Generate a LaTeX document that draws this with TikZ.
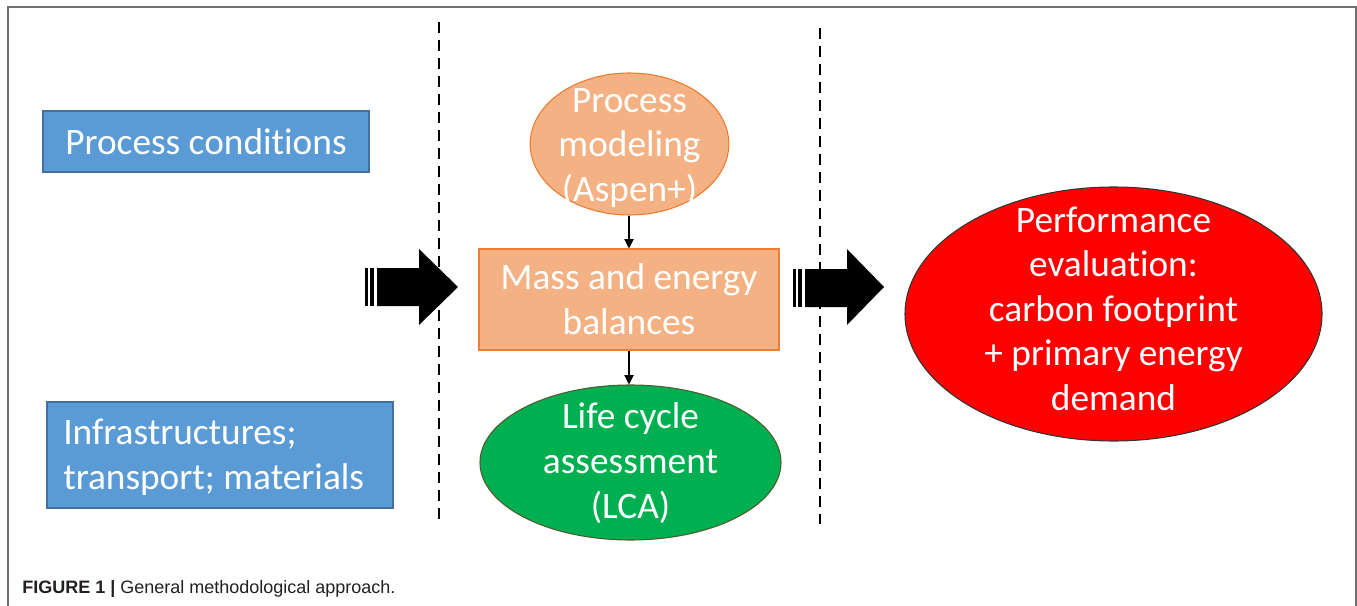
\documentclass[tikz,border=0pt]{standalone}
\usepackage{fontspec}
\setmainfont[Ligatures=CommonOff]{Carlito}
\newfontfamily\capfont{Liberation Sans}
\usetikzlibrary{shapes.geometric,arrows.meta}
\frenchspacing
\definecolor{bluefill}{HTML}{5B9BD5}
\definecolor{blueline}{HTML}{41719C}
\definecolor{orfill}{HTML}{F4B183}
\definecolor{orline}{HTML}{ED7D31}
\definecolor{grfill}{HTML}{00B050}
\definecolor{grline}{HTML}{4E5B2F}
\definecolor{rdfill}{HTML}{FF0000}
\definecolor{frame}{HTML}{707070}
\definecolor{captext}{HTML}{231F20}
\tikzset{
  x=0.75pt,y=-0.75pt,
  txt/.style={text=white,font=\fontsize{28}{33.6}\selectfont,align=center,inner sep=0pt},
  bluebox/.style={txt,draw=blueline,fill=bluefill,line width=0.9pt},
  oval/.style={ellipse,line width=0.8pt,inner sep=0pt},
  sep/.style={draw=black,line width=1.5pt,dash pattern=on 8.25pt off 5.25pt},
  thinarrow/.style={draw=black,line width=0.8pt,-{Triangle[length=7pt,width=7pt]}},
  blockarrow/.style={fill=black,draw=none}
}
\begin{document}
\begin{tikzpicture}
\useasboundingbox (0,0) rectangle (1357,606);
% frame
\draw[frame,line width=1.5pt] (8,606) -- (8,7) -- (1356,7) -- (1356,606);
% separators
\coordinate (s1a) at (439,22); \coordinate (s1b) at (439,520);
\coordinate (s2a) at (820,28); \coordinate (s2b) at (820,524);
\draw[sep] (s1a) -- (s1b);
\draw[sep] (s2a) -- (s2b);
% blue boxes
\node[bluebox,minimum width=244.5pt,minimum height=45.75pt] (pc) at (206,141.5) {Process conditions};
\node[bluebox,minimum width=259.5pt,minimum height=79.5pt] (inf) at (220,455) {};
\node[txt,align=left,anchor=west] (inft) at (63,457) {Infrastructures;\\transport; materials};
% middle column
\node[oval,fill=orfill,draw=orline,minimum width=149pt,minimum height=106.5pt] (pm) at (629.5,144) {};
\node[txt] (pmt) at (629.5,148) {Process\\modeling\\(Aspen+)};
\node[txt,fill=orfill,draw=orline,line width=0.8pt,minimum width=225pt,minimum height=75.75pt] (meb) at (629,299.5) {Mass and energy\\balances};
\node[oval,fill=grfill,draw=grline,minimum width=225.75pt,minimum height=116.25pt] (lca) at (630.5,462.5) {};
\node[txt] (lcat) at (630.5,463) {Life cycle\\assessment\\(LCA)};
\node[oval,fill=rdfill,draw=black!80,minimum width=312.75pt,minimum height=190.5pt] (pe) at (1113.5,314) {};
\node[txt,font=\fontsize{28}{33.4}\selectfont] (pet) at (1113.5,308.5) {Performance\\evaluation:\\carbon footprint\\+ primary energy\\demand};
\draw[thinarrow] (pm.south -| meb.north) -- (meb.north);
\draw[thinarrow] (meb.south) -- (lca.north -| meb.south);
% striped block arrows
\fill[blockarrow] (365,268) rectangle (367.5,306);
\fill[blockarrow] (369.5,268) rectangle (374,306);
\fill[blockarrow] (377,268) -- (419,268) -- (419,249) -- (458,287) -- (419,325) -- (419,306) -- (377,306) -- cycle;
\fill[blockarrow] (793,269) rectangle (795.5,307);
\fill[blockarrow] (797.5,269) rectangle (802,307);
\fill[blockarrow] (805,269) -- (847,269) -- (847,249) -- (884,287) -- (847,325) -- (847,307) -- (805,307) -- cycle;
% caption
\node[anchor=base west,inner sep=0pt,text=captext,font=\capfont\fontsize{13.5}{16}\selectfont] (cap) at (22,593) {\textbf{FIGURE 1 |} General methodological approach.};
\end{tikzpicture}
\end{document}
